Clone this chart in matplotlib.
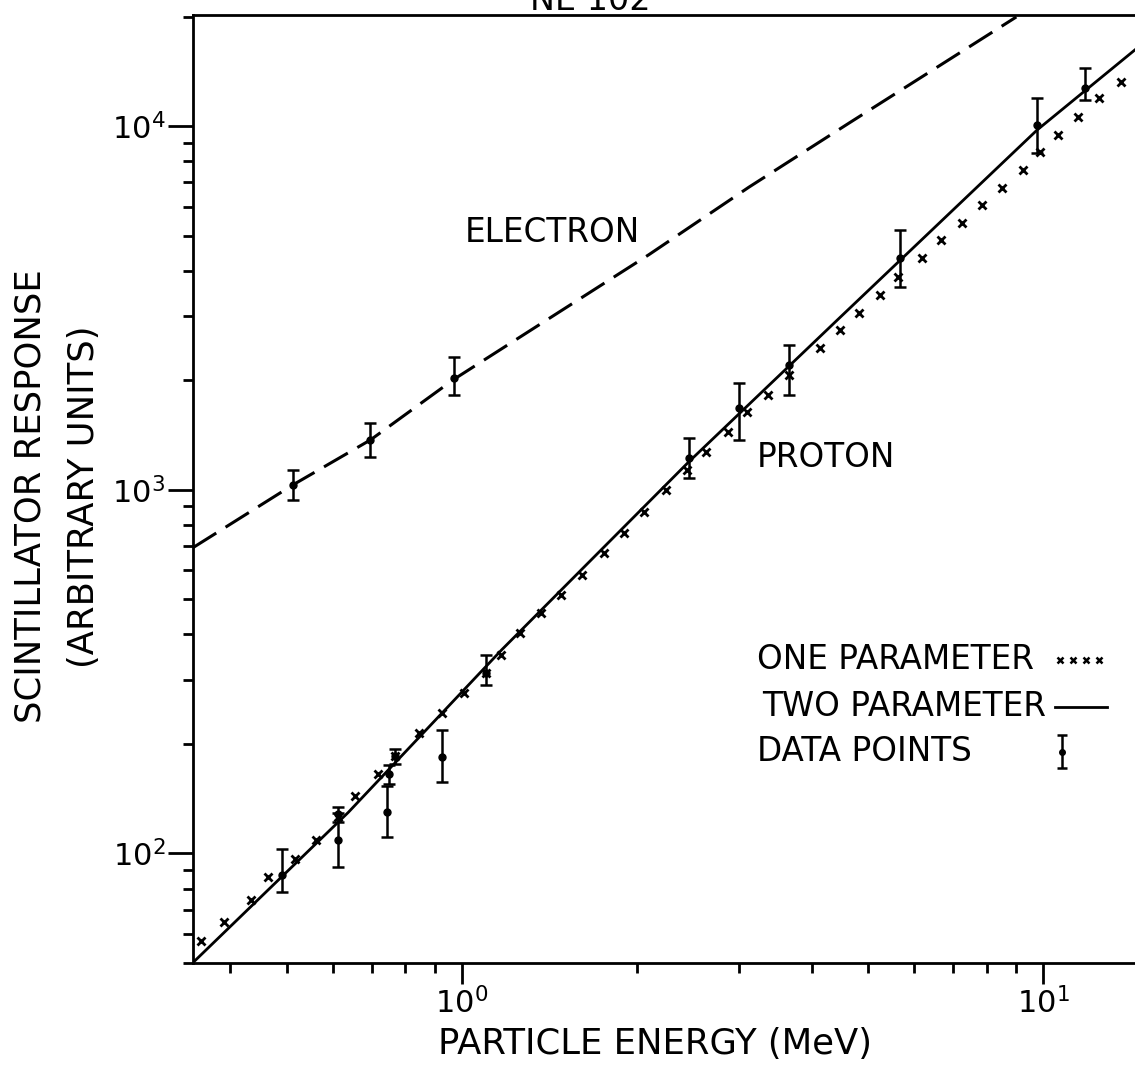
import matplotlib.pyplot as plt
from matplotlib.ticker import LogLocator, NullFormatter

plt.rcParams['font.family'] = ['DejaVu Sans']

# electron response curve (dashed) and measured electron points
el_curve_E = [0.345, 0.513, 0.697, 0.969, 2.10, 3.12, 4.64, 9.0]
el_curve_R = [693, 1032, 1371, 2010, 4430, 6790, 10190, 19950]

el_pts_E = [0.513, 0.697, 0.969]
el_pts_R = [1032, 1371, 2032]
el_pts_lo = [940, 1233, 1823]
el_pts_hi = [1135, 1528, 2317]

# proton, two parameter fit (solid)
two_E = [0.345, 0.638, 1.172, 2.46, 4.43, 9.77, 14.4]
two_R = [50.1, 129.6, 363, 1194, 2930, 9750, 16200]

# proton, one parameter fit (x marks)
one_E = [0.356, 0.390, 0.435, 0.465, 0.517, 0.562, 0.614, 0.656, 0.719, 0.769,
         0.843, 0.924, 1.008, 1.10, 1.17, 1.26, 1.37, 1.48, 1.61, 1.76,
         1.90, 2.06, 2.25, 2.44, 2.63, 2.87, 3.10, 3.36, 3.66, 4.13,
         4.47, 4.83, 5.24, 5.64, 6.19, 6.69, 7.25, 7.85, 8.50, 9.24,
         9.89, 10.6, 11.5, 12.5, 13.6]
one_R = [57.3, 65.0, 74.7, 85.9, 96.3, 109, 126, 144, 165, 185,
         215, 244, 277, 314, 352, 404, 459, 515, 584, 671,
         762, 871, 1000, 1135, 1272, 1443, 1637, 1823, 2070, 2455,
         2754, 3065, 3435, 3850, 4340, 4860, 5420, 6070, 6760, 7570,
         8490, 9450, 10590, 11940, 13200]

# proton data points with error bars
pr_E = [0.490, 0.614, 0.614, 0.743, 0.749, 0.769, 0.924, 1.10, 2.46, 3.0, 3.66, 5.67, 9.77, 11.8]
pr_R = [87.5, 109, 128, 130, 165, 185, 184, 314, 1225, 1680, 2203, 4340, 10070, 12700]
pr_lo = [78.2, 91.5, 122, 111, 155, 176, 157, 291, 1079, 1371, 1823, 3614, 8430, 11780]
pr_hi = [102.6, 129.6, 134, 153, 175, 194, 218, 352, 1390, 1968, 2500, 5180, 11940, 14420]

fig = plt.figure(figsize=(11.35, 10.69), dpi=100)
ax = fig.add_axes([0.170, 0.0992, 0.830, 0.8868])
ax.set_xscale('log')
ax.set_yscale('log')
ax.set_xlim(0.345, 14.4)
ax.set_ylim(50, 20200)

ax.plot(el_curve_E, el_curve_R, color='k', lw=2.2, dashes=(9, 3.6))
ax.errorbar(el_pts_E, el_pts_R,
            yerr=[[r - l for r, l in zip(el_pts_R, el_pts_lo)],
                  [h - r for r, h in zip(el_pts_R, el_pts_hi)]],
            fmt='o', color='k', ms=5, capsize=4, elinewidth=1.8, capthick=1.8)

ax.plot(two_E, two_R, color='k', lw=2)
ax.plot(one_E, one_R, ls='none', marker='x', color='k', ms=6, mew=2)
ax.errorbar(pr_E, pr_R,
            yerr=[[r - l for r, l in zip(pr_R, pr_lo)],
                  [h - r for r, h in zip(pr_R, pr_hi)]],
            fmt='o', color='k', ms=5, capsize=4, elinewidth=1.8, capthick=1.8)

# curve names and hand-drawn legend
fs = 23.5
ax.text(0.289, 0.771, 'ELECTRON', transform=ax.transAxes, fontsize=fs, va='center')
ax.text(0.599, 0.533, 'PROTON', transform=ax.transAxes, fontsize=fs, va='center')
ax.text(0.599, 0.320, 'ONE PARAMETER', transform=ax.transAxes, fontsize=fs, va='center')
ax.text(0.604, 0.270, 'TWO PARAMETER', transform=ax.transAxes, fontsize=fs, va='center')
ax.text(0.599, 0.223, 'DATA POINTS', transform=ax.transAxes, fontsize=fs, va='center')
ax.plot([0.920, 0.934, 0.948, 0.962], [0.320] * 4, transform=ax.transAxes,
        ls='none', marker='x', color='k', ms=4, mew=1.8)
ax.plot([0.915, 0.970], [0.270, 0.270], transform=ax.transAxes, color='k', lw=2)
ax.errorbar([0.9225], [0.223], yerr=[[0.0174], [0.0174]], transform=ax.transAxes,
            fmt='o', color='k', ms=4, capsize=3.5, elinewidth=1.8, capthick=1.8)

# axes styling
for side in ['left', 'bottom', 'top']:
    ax.spines[side].set_linewidth(2)
ax.spines['right'].set_visible(False)
ax.xaxis.set_major_locator(LogLocator(base=10))
ax.yaxis.set_major_locator(LogLocator(base=10))
ax.xaxis.set_minor_locator(LogLocator(base=10, subs=range(2, 10)))
ax.yaxis.set_minor_locator(LogLocator(base=10, subs=range(2, 10)))
ax.xaxis.set_minor_formatter(NullFormatter())
ax.yaxis.set_minor_formatter(NullFormatter())
ax.tick_params(which='both', direction='out', top=False, right=False, width=2)
ax.tick_params(axis='y', which='major', length=18, labelsize=22, pad=2)
ax.tick_params(axis='y', which='minor', length=7)
ax.tick_params(axis='x', which='major', length=15, labelsize=22, pad=2)
ax.tick_params(axis='x', which='minor', length=7)

ax.set_xlabel('PARTICLE ENERGY (MeV)', fontsize=25.5)
ax.xaxis.set_label_coords(0.490, -0.068)
ax.set_ylabel('SCINTILLATOR RESPONSE\n(ARBITRARY UNITS)', fontsize=25.5, linespacing=1.7)
ax.yaxis.set_label_coords(-0.098, 0.492)

fig.text(0.52, 0.9906, 'NE 102', fontsize=24, ha='center', va='baseline')

fig.savefig('out.png', dpi=100)
